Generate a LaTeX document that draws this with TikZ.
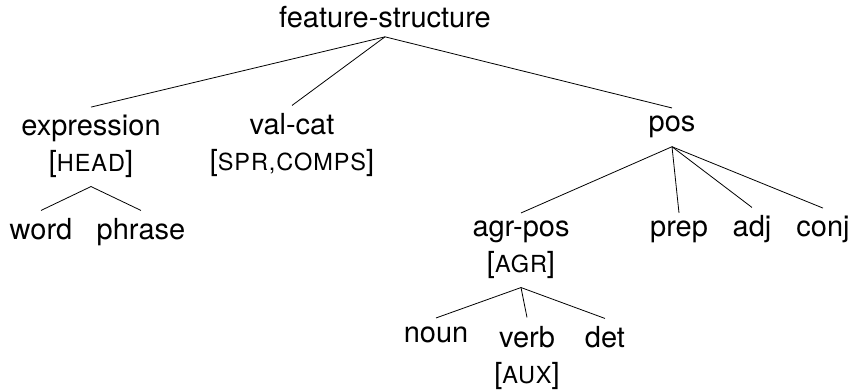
\documentclass[tikz,border=0pt]{standalone}
\usepackage{fontspec}
\setmainfont{TeX Gyre Heros}
\newcommand{\sm}[1]{{\fontsize{23.5}{36}\selectfont\addfontfeature{LetterSpace=4}#1}}
\begin{document}
\begin{tikzpicture}[x=1pt,y=-1pt,
  tn/.style={anchor=base,align=center,inner xsep=0pt,inner ysep=8pt,
     font=\fontsize{29}{36}\selectfont},
  every path/.style={line width=0.8pt}]
\useasboundingbox (0,0) rectangle (852,390);
\node[tn] (fs) at (385,28) {feature-structure};
\node[tn] (ex) at (91,172) {expression\\{[}\sm{HEAD}{]}};
\node[tn] (vc) at (292,171) {val-cat\\{[}\sm{SPR,COMPS}{]}};
\node[tn] (pos) at (672,132) {pos};
\node[tn] (wd) at (41,240) {word};
\node[tn] (ph) at (141,240) {phrase};
\node[tn] (agr) at (521,273) {agr-pos\\{[}\sm{AGR}{]}};
\node[tn] (prep) at (679,237) {prep};
\node[tn] (adj) at (752,237) {adj};
\node[tn] (conj) at (823,237) {conj};
\node[tn] (noun) at (436,342) {noun};
\node[tn] (verb) at (527,383) {verb\\{[}\sm{AUX}{]}};
\node[tn] (det) at (605,348) {det};
\draw (fs.south) -- (ex.north);
\draw (fs.south) -- (vc.north);
\draw (fs.south) -- (pos.north);
\draw (ex.south) -- (wd.north);
\draw (ex.south) -- (ph.north);
\draw (pos.south) -- (agr.north);
\draw (pos.south) -- (prep.north);
\draw (pos.south) -- (adj.north);
\draw (pos.south) -- (conj.north);
\draw (agr.south) -- (noun.north);
\draw (agr.south) -- (verb.north);
\draw (agr.south) -- (det.north);
\end{tikzpicture}
\end{document}
